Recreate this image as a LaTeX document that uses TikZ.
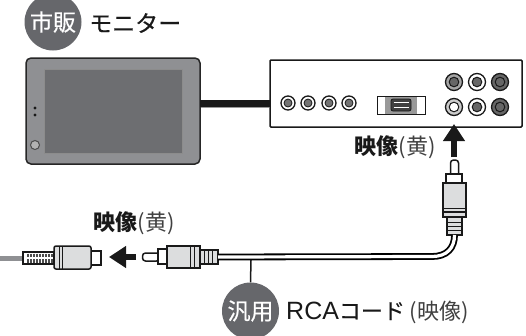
\documentclass[tikz,border=0pt]{standalone}
\usepackage{fontspec}
\usepackage{tikz}
\usetikzlibrary{arrows.meta}
\newfontfamily\cjk{Noto Sans CJK JP}
\newfontfamily\cjkmed[FakeBold=0.35]{Noto Sans CJK JP}
\newfontfamily\rcafont{Liberation Sans}
\definecolor{badgegray}{HTML}{66676B}
\definecolor{panelgray}{HTML}{8F9093}
\definecolor{screengray}{HTML}{6D6E71}
\definecolor{plugfill}{HTML}{DCDDDE}

\begin{document}
\begin{tikzpicture}[x=1pt,y=-1pt,
    badge/.style={circle,fill=badgegray,text=white,inner sep=0pt,minimum size=57pt,font=\cjkmed\fontsize{23}{23}\selectfont},
    caption/.style={inner sep=0pt,text=black!90,font=\cjk\fontsize{22}{22}\selectfont},
    part/.style={rectangle,draw=black!90,line width=1.5pt,inner sep=0pt,outer sep=0pt},
    jack/.style={circle,draw=black!90,fill=white,line width=1.3pt,inner sep=0pt,minimum size=14pt},
    bigarrow/.style={-{Triangle[length=17pt,width=21pt]},line width=6.5pt,black!90,shorten >=0pt}]
    \useasboundingbox (0,0) rectangle (526,335);

    % titles
    \node[badge] (shihan) at (53,22) {市販};
    \node[caption,anchor=west] (monitortext) at (89,23) {\cjkmed\fontsize{23}{23}\selectfont モニター};
    \node[badge] (hanyou) at (250.5,311) {汎用};
    \node[caption,anchor=west] (cordtext) at (286,312) {{\rcafont\fontsize{25}{25}\selectfont RCA}\cjkmed コード {\cjk\color{black!75}(映像)}};

    % monitor
    \node[part,draw=black!85,fill=panelgray,rounded corners=5pt,line width=1.5pt,minimum width=174pt,minimum height=106pt] (monitor) at (113,111) {};
    \node[part,draw=black!45,fill=screengray,line width=1pt,minimum width=138pt,minimum height=84pt] (screen) at (113,111) {};
    \fill[black!90] (35,108) circle (1.6pt) (35,115) circle (1.6pt);
    \node[circle,draw=black!70,fill=black!30,line width=1pt,minimum size=9pt,inner sep=0pt] (powerbtn) at (35,145) {};

    % unit with its jacks
    \node[part,fill=white,rounded corners=1pt,minimum width=252pt,minimum height=67pt] (unit) at (396,93.5) {};
    \foreach \name/\x in {ja/288,jb/308,jc/329,jd/349} {
        \node[jack] (\name) at (\x,103) {};
        \fill[black!55,draw=black!90,line width=0.8pt] (\name.center) circle (4pt);
    }
    \draw[black!90,line width=7pt] (monitor.east |- ja) -- (unit.west |- ja);
    \draw[black!40,line width=0.8pt] (200.5,107) -- (269,107);

    % hdmi port
    \node[part,line width=0.8pt,minimum width=48pt,minimum height=18pt] (hdmi) at (401,105) {};
    \node[part,draw=none,fill=black!40,minimum width=32pt,minimum height=17pt] (hdmigray) at (401,105) {};
    \node[part,fill=black!75,rounded corners=2pt,line width=0.8pt,minimum width=20pt,minimum height=12pt] (hdmiplug) at (401,105) {};
    \draw[white,line width=1pt] (393.5,102.5) -- (408.5,102.5);
    \draw[white,line width=0.7pt] (393.5,107) -- (408.5,107);

    % rca jacks
    \foreach \name/\x/\y/\ring/\inner in {ra/454/82/black!35/black!60,rb/477/82/white/black!60,rc/500/82/black!60/black!60,rd/454/107/black!20/white,re/477/107/white/black!60,rf/500/107/black!60/black!60} {
        \node[jack,minimum size=17pt,fill=\ring] (\name) at (\x,\y) {};
        \fill[\inner,draw=black!90,line width=1pt] (\name.center) circle (4.8pt);
    }

    % arrows
    \coordinate (uptip) at (454,124);
    \coordinate (uptail) at (454,157);
    \coordinate (lefttip) at (109,257);
    \coordinate (lefttail) at (136,257);
    \draw[bigarrow] (uptail) -- (uptip);
    \draw[bigarrow] (lefttail) -- (lefttip);
    \node[caption,anchor=center] (videoa) at (395,147) {\textbf{映像}{\color{black!75}(黄)}};
    \node[caption,anchor=center] (videob) at (134,223) {\textbf{映像}{\color{black!75}(黄)}};

    % cord between the plugs
    \node[part,fill=white,rounded corners=3pt,minimum width=8pt,minimum height=18pt] (uptipnode) at (454.5,169) {};
    \node[part,fill=white,minimum width=16pt,minimum height=9pt] (upcollar) at (454,178.5) {};
    \node[part,fill=plugfill,minimum width=23pt,minimum height=34pt] (upbody) at (454.5,200) {};
    \draw[black!90,line width=1pt] (443,208) -- (466,208);
    \draw[black!90,line width=2pt] (443,212) -- (466,212);
    \node[part,fill=plugfill,minimum width=15pt,minimum height=18pt] (upneck) at (454.5,226) {};
    \foreach \y in {222,226,230} { \draw[black!90,line width=1pt] (447,\y) -- (462,\y); }

    \node[part,fill=white,rounded corners=3pt,minimum width=17pt,minimum height=8pt] (lefttipnode) at (151,257) {};
    \node[part,fill=white,minimum width=9pt,minimum height=15pt] (leftcollar) at (162.5,256.5) {};
    \node[part,fill=plugfill,minimum width=33pt,minimum height=22pt] (leftbody) at (183.5,257) {};
    \foreach \x in {190,194} { \draw[black!90,line width=1pt] (\x,246) -- (\x,268); }
    \node[part,fill=plugfill,minimum width=18pt,minimum height=14pt] (leftneck) at (209,257) {};
    \foreach \x in {204,208,212} { \draw[black!90,line width=1pt] (\x,250) -- (\x,264); }

    \draw[double=white,double distance=3.2pt,draw=black,line width=1.8pt,line cap=butt]
        (upneck.south) .. controls (454.5,248) and (447,256.5) .. (432,256.5) -- (leftneck.east |- leftbody);
    \coordinate (cordmark) at (251,260);
    \draw[black!90,line width=1.5pt] (cordmark) -- (hanyou.north);

    % other plug on the left
    \draw[panelgray,line width=5pt] (0,258.5) -- (24,258.5);
    \node[part,fill=white,minimum width=11pt,minimum height=14pt] (socket) at (95.5,258) {};
    \node[part,fill=plugfill,rounded corners=2pt,minimum width=37pt,minimum height=23pt] (farbody) at (72.5,257.5) {};
    \foreach \x in {59,62} { \draw[black!90,line width=1pt] (\x,246) -- (\x,269); }
    \node[part,fill=white,minimum width=31pt,minimum height=12pt] (farneck) at (38.5,258) {};
    \foreach \x in {28,31,...,52} { \draw[black!70,line width=1.6pt] (\x,253.5) -- (\x,257) (\x,259) -- (\x,262.5); }
\end{tikzpicture}
\end{document}
